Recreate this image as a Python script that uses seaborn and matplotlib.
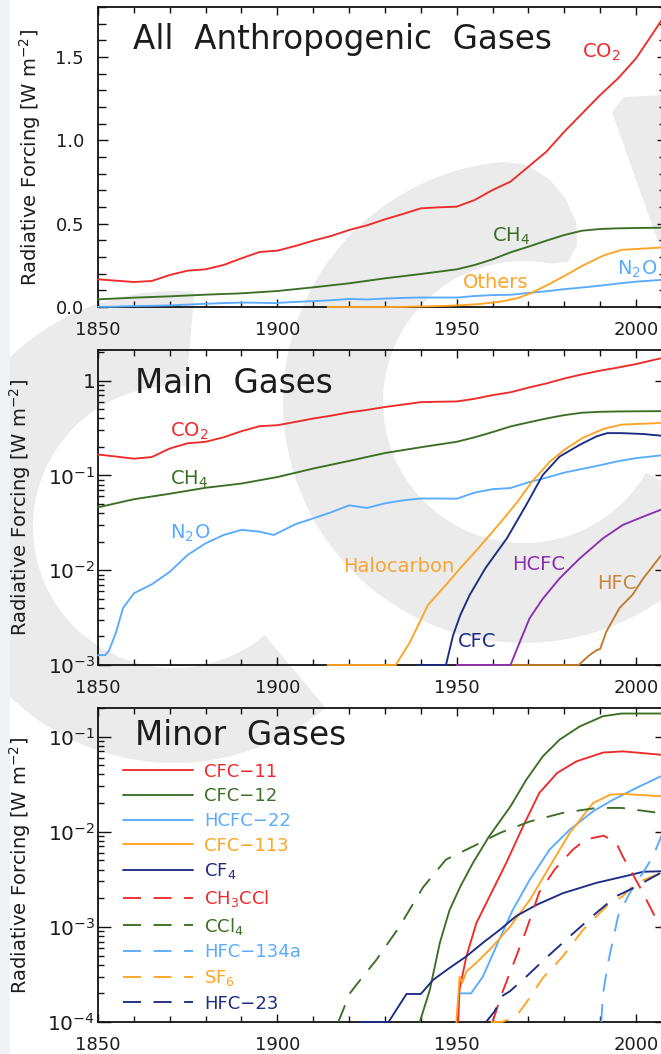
import numpy as np
import pandas as pd
import matplotlib
matplotlib.use("Agg")
import matplotlib.pyplot as plt
import seaborn as sns
from matplotlib.patches import Wedge, Polygon, Rectangle
from matplotlib.ticker import MultipleLocator, LogLocator, FuncFormatter, NullFormatter, FixedLocator
from matplotlib.lines import Line2D

# ---------------- data ----------------
co2_years = [1850, 1855, 1860, 1865, 1870, 1875, 1880, 1885, 1890, 1895, 1900, 1905, 1910, 1915,
             1920, 1925, 1930, 1935, 1940, 1945, 1950, 1955, 1960, 1965, 1970, 1975, 1980, 1985,
             1990, 1995, 2000, 2005, 2008]
co2_vals = [0.166, 0.158, 0.150, 0.156, 0.192, 0.218, 0.226, 0.252, 0.292, 0.330, 0.338, 0.366,
            0.398, 0.426, 0.462, 0.490, 0.526, 0.558, 0.592, 0.598, 0.602, 0.642, 0.702, 0.752,
            0.842, 0.932, 1.052, 1.162, 1.272, 1.372, 1.492, 1.652, 1.75]

ch4_years = [1850, 1860, 1870, 1880, 1890, 1900, 1910, 1920, 1930, 1940, 1950, 1955, 1960, 1965,
             1970, 1975, 1980, 1985, 1990, 1995, 2000, 2008]
ch4_vals = [0.046, 0.056, 0.064, 0.074, 0.082, 0.096, 0.118, 0.142, 0.172, 0.198, 0.226, 0.252,
            0.286, 0.328, 0.362, 0.398, 0.432, 0.458, 0.468, 0.472, 0.474, 0.476]

n2o_years = [1850, 1852, 1853, 1855, 1857, 1860, 1865, 1870, 1875, 1880, 1885, 1890, 1895, 1899,
             1905, 1910, 1915, 1920, 1925, 1930, 1935, 1940, 1945, 1950, 1955, 1960, 1965, 1970,
             1975, 1980, 1985, 1990, 1995, 2000, 2008]
n2o_vals = [0.00127, 0.00127, 0.0014, 0.0022, 0.0040, 0.0057, 0.0071, 0.0096, 0.0145, 0.0192,
            0.0235, 0.0266, 0.0255, 0.0235, 0.0305, 0.0352, 0.0408, 0.0483, 0.0453, 0.0507,
            0.0545, 0.057, 0.057, 0.0567, 0.0658, 0.0715, 0.0735, 0.0845, 0.0945, 0.107, 0.117,
            0.128, 0.141, 0.152, 0.164]

halo_years = [1914, 1933, 1937, 1942, 1947, 1951, 1956, 1962, 1967, 1971, 1976, 1980, 1985,
              1991, 1996, 2008]
halo_vals = [0.001, 0.001, 0.00175, 0.0043, 0.0070, 0.0105, 0.017, 0.0312, 0.053, 0.086, 0.140,
             0.186, 0.247, 0.31, 0.343, 0.358]

cfc_years = [1939, 1947, 1949, 1951, 1953.6, 1958, 1964, 1969.4, 1974, 1978.7, 1984.3, 1989,
             1992, 1996, 2002, 2008]
cfc_vals = [0.001, 0.001, 0.00206, 0.00336, 0.00546, 0.0105, 0.0217, 0.0489, 0.101, 0.158, 0.21,
            0.258, 0.279, 0.279, 0.273, 0.26]

hcfc_years = [1950, 1965, 1967.6, 1970.3, 1974, 1978.7, 1984.3, 1990.8, 1996.3, 2002, 2008]
hcfc_vals = [0.001, 0.001, 0.00175, 0.0031, 0.0050, 0.0082, 0.0133, 0.0217, 0.030, 0.0367, 0.045]

hfc_years = [1950, 1984, 1987, 1989, 1990, 1991.7, 1995.4, 1999, 2002, 2008]
hfc_vals = [0.001, 0.001, 0.00127, 0.00143, 0.00148, 0.00224, 0.0040, 0.0055, 0.0082, 0.016]

# minor gases
cfc11_years = [1950.4, 1950.8, 1952.7, 1955.5, 1959.2, 1963.8, 1968.5, 1973, 1978, 1983.4, 1990.8, 1996.3, 2008]
cfc11_vals = [1e-4, 2.2e-4, 4.9e-4, 1.1e-3, 2.1e-3, 4.7e-3, 0.0114, 0.0255, 0.0415, 0.055, 0.068, 0.070, 0.064]

cfc12_years = [1939.7, 1942.5, 1945.3, 1948, 1951, 1954.5, 1959, 1965, 1969.4, 1974, 1978.7, 1984.3, 1990.8, 1996, 2008]
cfc12_vals = [1e-4, 2.17e-4, 6.8e-4, 1.5e-3, 2.65e-3, 4.68e-3, 8.9e-3, 0.0185, 0.0352, 0.062, 0.093, 0.128, 0.164, 0.175, 0.175]

hcfc22_years = [1951, 1954, 1957.3, 1961, 1965.6, 1970.3, 1975.9, 1981.5, 1988, 1993.6, 2000, 2008]
hcfc22_vals = [2e-4, 2e-4, 3e-4, 6.2e-4, 1.5e-3, 3.1e-3, 6.5e-3, 0.0105, 0.0164, 0.0217, 0.0288, 0.040]

cfc113_years = [1949.9, 1950.8, 1951.6, 1952.7, 1955.5, 1960, 1964.8, 1970.3, 1975.9, 1981.5, 1988, 1992.7, 1996.3, 2008]
cfc113_vals = [1e-4, 3.0e-4, 2.6e-4, 3.4e-4, 4.2e-4, 6.2e-4, 1.0e-3, 1.9e-3, 4.3e-3, 9.7e-3, 0.020, 0.0245, 0.025, 0.0235]

cf4_years = [1923, 1931, 1936, 1940, 1943.4, 1948, 1952.7, 1957.3, 1962, 1966.6, 1972.2, 1979.6, 1988.9, 1998.2, 2002, 2008]
cf4_vals = [1e-4, 1e-4, 1.97e-4, 1.97e-4, 2.77e-4, 3.7e-4, 4.9e-4, 6.8e-4, 9.3e-4, 1.3e-3, 1.7e-3, 2.26e-3, 2.9e-3, 3.5e-3, 3.8e-3, 3.85e-3]

ch3ccl3_years = [1960, 1962.4, 1966.6, 1969.4, 1973, 1977.3, 1982.4, 1986, 1991, 1994.5, 1996.3, 2001, 2005.2, 2008]
ch3ccl3_vals = [1e-4, 1.9e-4, 4.9e-4, 9.3e-4, 2.3e-3, 4e-3, 6.5e-3, 8.3e-3, 9.1e-3, 7.6e-3, 5.5e-3, 2.65e-3, 1.3e-3, 8.5e-4]

ccl4_years = [1917, 1920.2, 1922, 1927.6, 1934, 1940.6, 1947, 1954.5, 1962, 1970.3, 1979.6, 1989, 1996, 2008]
ccl4_vals = [1e-4, 2e-4, 2.45e-4, 4.5e-4, 1e-3, 2.6e-3, 5.1e-3, 7e-3, 9.7e-3, 0.0128, 0.0158, 0.0178, 0.0178, 0.0155]

hfc134a_years = [1990.3, 1990.8, 1992.2, 1995, 1998.2, 2001.9, 2004.7, 2008]
hfc134a_vals = [1e-4, 2e-4, 4.2e-4, 1.3e-3, 2.26e-3, 3.7e-3, 5.5e-3, 1.1e-2]

sf6_years = [1959.5, 1962.6, 1966.6, 1969.4, 1974, 1979.6, 1985.2, 1991.7, 1996.3, 2000, 2008]
sf6_vals = [1e-4, 1e-4, 1.15e-4, 1.6e-4, 2.9e-4, 4.9e-4, 9.3e-4, 1.64e-3, 2.1e-3, 2.9e-3, 3.8e-3]

hfc23_years = [1958.2, 1960.6, 1962.9, 1964.8, 1969.4, 1975.4, 1982.4, 1988.9, 1994.5, 1999.1, 2008]
hfc23_vals = [1e-4, 1.3e-4, 1.9e-4, 2.1e-4, 3e-4, 4.9e-4, 8.5e-4, 1.4e-3, 2.1e-3, 2.55e-3, 3.9e-3]

x_ticks = [1850, 1900, 1950, 2000]
panel_titles = ["All  Anthropogenic  Gases", "Main  Gases", "Minor  Gases"]
ylabel = "Radiative Forcing [W m$^{-2}$]"
minor_labels = ["CFC\u221211", "CFC\u221212", "HCFC\u221222", "CFC\u2212113", "CF$_4$",
                "CH$_3$CCl", "CCl$_4$", "HFC\u2212134a", "SF$_6$", "HFC\u221223"]

# ---------------- style ----------------
RED = "#ee2b2b"
GREEN = "#3b6f24"
LBLUE = "#5aabff"
ORANGE = "#ffa424"
NAVY = "#1b2c82"
PURPLE = "#8b2fb0"
BROWN = "#c07a2c"
TXT = "#1c1c1c"
GREY = "#ebebeb"
DASH = (0, (13, 9))
LW = 1.35

sns.set_style("ticks")
plt.rcParams["font.family"] = ["DejaVu Sans"]
plt.rcParams["mathtext.default"] = "regular"
plt.rcParams["lines.scale_dashes"] = False
plt.rcParams["axes.edgecolor"] = "#111111"

W, H = 661, 1054
fig = plt.figure(figsize=(W / 100, H / 100), dpi=100)
fig.patch.set_facecolor("white")

# background watermark (two "c" shapes of a logo), in pixel coordinates
bg = fig.add_axes([0, 0, 1, 1], zorder=0)
bg.set_xlim(0, W)
bg.set_ylim(H, 0)
bg.axis("off")


def ring_polygon(cx, cy, R, r, a_out0, a_in0, a_end, terminal):
    ao = np.radians(np.linspace(a_out0, a_end, 80))
    ai = np.radians(np.linspace(a_end, a_in0, 80))
    outer = np.column_stack([cx + R * np.cos(ao), cy - R * np.sin(ao)])
    inner = np.column_stack([cx + r * np.cos(ai), cy - r * np.sin(ai)])
    return np.vstack([outer, inner, np.array(terminal)])


right_c = ring_polygon(524, 402, 241, 141, 95, 79, 330,
                       [(568, 262), (577, 245), (576, 222), (566, 199), (549, 179), (527, 165)])
bg.add_patch(Polygon(right_c, closed=True, color=GREY, lw=0))
bg.add_patch(Wedge((174, 527), 236, 50, 275, width=95, color=GREY, lw=0))
bg.add_patch(Polygon([(612, 112), (624, 97), (661, 95), (661, 250)], closed=True, color=GREY, lw=0))
bg.add_patch(Rectangle((0, 0), 10, H, color="#f0f2f6", lw=0))

PX_PER_YEAR = 3.587
AX_LEFT = 98
AX_WPX = 568.5
X_MAX = 1850 + AX_WPX / PX_PER_YEAR


def make_axes(top_px, bottom_px):
    ax = fig.add_axes([AX_LEFT / W, 1 - bottom_px / H, AX_WPX / W, (bottom_px - top_px) / H], zorder=1)
    ax.patch.set_alpha(0)
    for s in ax.spines.values():
        s.set_linewidth(1.3)
        s.set_visible(True)
    ax.set_xlim(1850, X_MAX)
    ax.xaxis.set_major_locator(FixedLocator(x_ticks))
    ax.xaxis.set_minor_locator(MultipleLocator(10))
    ax.tick_params(axis="x", which="both", direction="in", top=True, bottom=True,
                   labelsize=13, pad=10, colors="#111111", labelcolor=TXT)
    ax.tick_params(axis="x", which="major", length=6, width=1.0)
    ax.tick_params(axis="x", which="minor", length=4, width=1.0)
    return ax


def draw(ax, xs, ys, color, ls="-"):
    sns.lineplot(x=xs, y=ys, ax=ax, color=color, linewidth=LW, linestyle=ls,
                 clip_on=False, zorder=3, legend=False)


def log_fmt(v, pos):
    if abs(v - 1) < 1e-9:
        return "1"
    e = int(round(np.log10(v)))
    return "10$^{%d}$" % e


def setup_log(ax, lo, hi):
    ax.set_yscale("log")
    ax.set_ylim(lo, hi)
    ax.yaxis.set_major_locator(LogLocator(base=10, numticks=10))
    ax.yaxis.set_minor_locator(LogLocator(base=10, subs=np.arange(2, 10), numticks=20))
    ax.yaxis.set_major_formatter(FuncFormatter(log_fmt))
    ax.yaxis.set_minor_formatter(NullFormatter())
    ax.tick_params(axis="y", which="both", direction="in", left=True, right=True,
                   labelsize=14.5, pad=2, colors="#111111", labelcolor=TXT)
    ax.tick_params(axis="y", which="major", length=9, width=1.0)
    ax.tick_params(axis="y", which="minor", length=4.5, width=1.0)


def put_text(ax, x, y, s, color, size=14):
    ax.text(x, y, s, color=color, fontsize=size, ha="left", va="baseline", zorder=4)


TITLE_SIZE = 23.5

# ---------------- panel 1 ----------------
ax1 = make_axes(7, 307)
draw(ax1, co2_years, co2_vals, RED)
draw(ax1, ch4_years, ch4_vals, GREEN)
draw(ax1, n2o_years, n2o_vals, LBLUE)
draw(ax1, halo_years, [0.0 if v <= 0.001 else v for v in halo_vals], ORANGE)
ax1.set_ylim(0, 1.8)
ax1.yaxis.set_major_locator(FixedLocator([0.0, 0.5, 1.0, 1.5]))
ax1.yaxis.set_minor_locator(MultipleLocator(0.1))
ax1.yaxis.set_major_formatter(FuncFormatter(lambda v, p: "%.1f" % v))
ax1.tick_params(axis="y", which="both", direction="in", left=True, right=True,
                labelsize=13, pad=10, colors="#111111", labelcolor=TXT)
ax1.tick_params(axis="y", which="major", length=7, width=1.0)
ax1.tick_params(axis="y", which="minor", length=6, width=1.0)
ax1.text(0.0616, 0.86, panel_titles[0], transform=ax1.transAxes, fontsize=TITLE_SIZE, color=TXT,
         ha="left", va="baseline")
put_text(ax1, 1984.9, 1.494, "CO$_2$", RED)
put_text(ax1, 1959.8, 0.39, "CH$_4$", GREEN)
put_text(ax1, 1951.8, 0.114, "Others", ORANGE)
put_text(ax1, 1994.7, 0.192, "N$_2$O", LBLUE)

# ---------------- panel 2 ----------------
ax2 = make_axes(350, 665)
setup_log(ax2, 1e-3, 2.1)
draw(ax2, co2_years, co2_vals, RED)
draw(ax2, ch4_years, ch4_vals, GREEN)
draw(ax2, n2o_years, n2o_vals, LBLUE)
draw(ax2, hfc_years, hfc_vals, BROWN)
draw(ax2, hcfc_years, hcfc_vals, PURPLE)
draw(ax2, cfc_years, cfc_vals, NAVY)
draw(ax2, halo_years, halo_vals, ORANGE)
ax2.text(0.065, 0.863, panel_titles[1], transform=ax2.transAxes, fontsize=TITLE_SIZE, color=TXT,
         ha="left", va="baseline")
put_text(ax2, 1870.1, 0.258, "CO$_2$", RED)
put_text(ax2, 1870.1, 0.080, "CH$_4$", GREEN)
put_text(ax2, 1870.1, 0.0215, "N$_2$O", LBLUE)
put_text(ax2, 1918.3, 0.00964, "Halocarbon", "#f7a535")
put_text(ax2, 1965.4, 0.0101, "HCFC", PURPLE)
put_text(ax2, 1989.1, 0.00637, "HFC", "#c8873f")
put_text(ax2, 1950.4, 0.00155, "CFC", NAVY)

# ---------------- panel 3 ----------------
ax3 = make_axes(708, 1022)
setup_log(ax3, 1e-4, 0.2)
minor_series = [
    (cfc12_years, cfc12_vals, GREEN, "-"),
    (cfc11_years, cfc11_vals, RED, "-"),
    (hcfc22_years, hcfc22_vals, LBLUE, "-"),
    (cfc113_years, cfc113_vals, ORANGE, "-"),
    (cf4_years, cf4_vals, NAVY, "-"),
    (ch3ccl3_years, ch3ccl3_vals, RED, DASH),
    (ccl4_years, ccl4_vals, GREEN, DASH),
    (hfc134a_years, hfc134a_vals, LBLUE, DASH),
    (sf6_years, sf6_vals, ORANGE, DASH),
    (hfc23_years, hfc23_vals, NAVY, DASH),
]
for xs, ys, c, ls in minor_series:
    draw(ax3, xs, ys, c, ls)
ax3.text(0.065, 0.882, panel_titles[2], transform=ax3.transAxes, fontsize=TITLE_SIZE, color=TXT,
         ha="left", va="baseline")
leg_colors = [RED, GREEN, LBLUE, ORANGE, NAVY, RED, GREEN, LBLUE, ORANGE, NAVY]
leg_styles = ["-"] * 5 + [DASH] * 5
handles = [Line2D([], [], color=c, lw=LW, linestyle=s) for c, s in zip(leg_colors, leg_styles)]
ax3.legend(handles, minor_labels, loc="upper left", bbox_to_anchor=(0.044, 0.826),
           frameon=False, handlelength=3.9, handletextpad=0.6, labelspacing=0.37,
           fontsize=13, labelcolor="linecolor", borderpad=0, borderaxespad=0)

for ax, lx in [(ax1, -0.0967), (ax2, -0.114), (ax3, -0.114)]:
    ax.set_xlabel("")
    ax.set_ylabel(ylabel, fontsize=14, color=TXT)
    ax.yaxis.set_label_coords(lx, 0.5)

fig.savefig("out.png", dpi=100, facecolor="white")
